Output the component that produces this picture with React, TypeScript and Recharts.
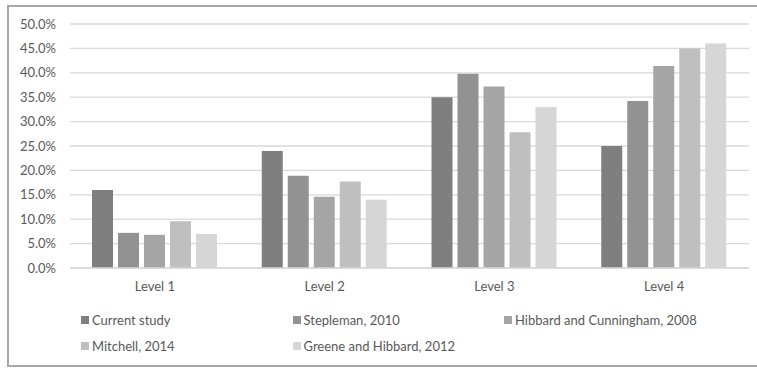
import { Bar, BarChart, CartesianGrid, XAxis, YAxis } from 'recharts';

const levels = ['Level 1', 'Level 2', 'Level 3', 'Level 4'];
const currentStudy = [16.0, 24.0, 35.0, 25.0];
const stepleman2010 = [7.2, 18.9, 39.8, 34.2];
const hibbardCunningham2008 = [6.8, 14.6, 37.2, 41.4];
const mitchell2014 = [9.6, 17.7, 27.8, 45.0];
const greeneHibbard2012 = [7.0, 14.0, 33.0, 46.0];
const yTicks = [0, 5, 10, 15, 20, 25, 30, 35, 40, 45, 50];

const series = [
  { key: 'current', name: 'Current study', values: currentStudy, color: '#7f7f7f' },
  { key: 'stepleman', name: 'Stepleman, 2010', values: stepleman2010, color: '#929292' },
  { key: 'hibbard', name: 'Hibbard and Cunningham, 2008', values: hibbardCunningham2008, color: '#a5a5a5' },
  { key: 'mitchell', name: 'Mitchell, 2014', values: mitchell2014, color: '#bfbfbf' },
  { key: 'greene', name: 'Greene and Hibbard, 2012', values: greeneHibbard2012, color: '#d6d6d6' },
];

const data = levels.map((level, i) => {
  const row: Record<string, string | number> = { level };
  series.forEach((s) => (row[s.key] = s.values[i]));
  return row;
});

const FONT = 'Lato, "Open Sans", sans-serif';
const TEXT = '#595959';
const GRID = '#d9d9d9';

export default function App() {
  return (
    <div style={{ position: 'absolute', left: 0, top: 0, width: 757, height: 372, background: '#fff', fontFamily: FONT, overflow: 'hidden' }}>
      {/* chart frame, open on the right like the source crop */}
      <div
        style={{
          position: 'absolute',
          left: 7,
          top: 5,
          width: 770,
          height: 362,
          border: '2px solid #a8a8a8',
          boxSizing: 'border-box',
        }}
      />
      <div style={{ position: 'absolute', left: 0, top: 0 }}>
        <BarChart
          width={757}
          height={372}
          data={data}
          margin={{ top: 24, right: 8, bottom: 74, left: 10 }}
          barGap={5}
          barSize={21}
        >
          <CartesianGrid vertical={false} stroke={GRID} strokeWidth={1.3} />
          <XAxis
            dataKey="level"
            axisLine={{ stroke: GRID, strokeWidth: 1.3 }}
            tickLine={false}
            tickSize={0}
            tickMargin={14}
            height={30}
            tick={{ fontSize: 13, fill: TEXT, fontFamily: FONT }}
          />
          <YAxis
            domain={[0, 50]}
            ticks={yTicks}
            interval={0}
            width={60}
            axisLine={false}
            tickLine={false}
            tickSize={0}
            tickMargin={14}
            tickFormatter={(v) => `${Number(v).toFixed(1)}%`}
            tick={{ fontSize: 13, fill: TEXT, fontFamily: FONT }}
          />
          {series.map((s) => (
            <Bar key={s.key} dataKey={s.key} name={s.name} fill={s.color} isAnimationActive={false} />
          ))}
        </BarChart>
      </div>
      {/* legend */}
      {series.map((s, i) => {
        const col = i % 3;
        const row = Math.floor(i / 3);
        return (
          <div
            key={s.key}
            style={{
              position: 'absolute',
              left: 81 + col * 211.5,
              top: 311 + row * 25.5,
              height: 18,
              display: 'flex',
              alignItems: 'center',
              fontSize: 13,
              color: TEXT,
              whiteSpace: 'nowrap',
            }}
          >
            <span style={{ width: 8, height: 8, background: s.color, marginRight: 3, display: 'inline-block' }} />
            {s.name}
          </div>
        );
      })}
    </div>
  );
}
